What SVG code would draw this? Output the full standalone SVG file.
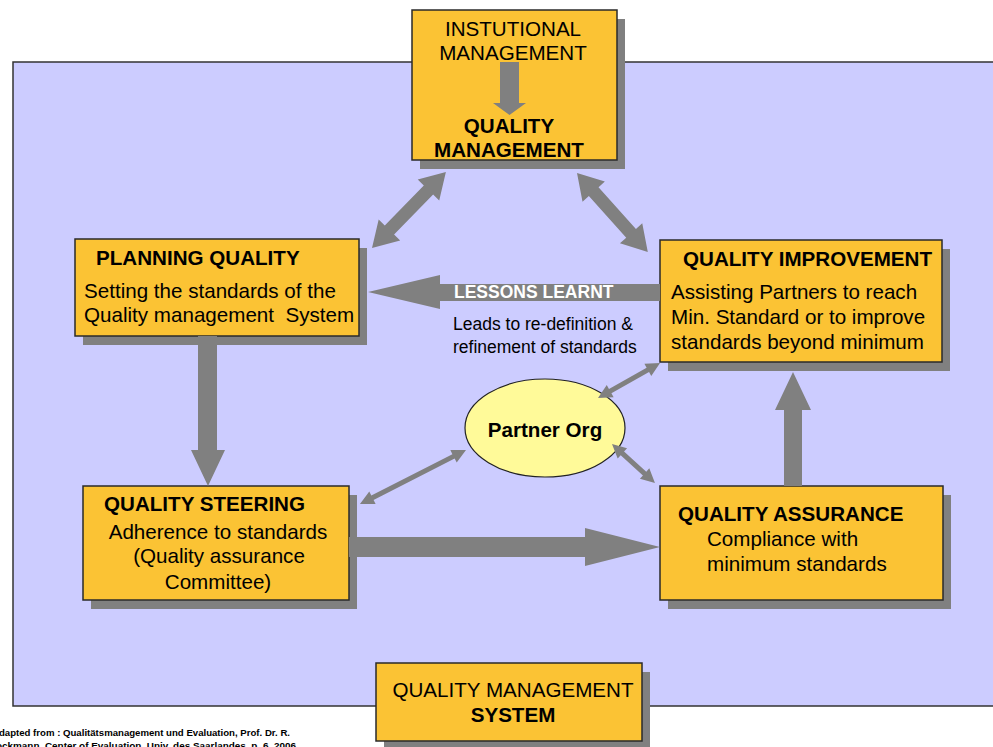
<svg xmlns="http://www.w3.org/2000/svg" width="993" height="747" viewBox="0 0 993 747">
  <style>
    .box { fill: #FBC334; stroke: #2a2a2a; stroke-width: 1.5; }
    .shadow { fill: #808080; }
    .conn { fill: #808080; }
    .t { font-family: "Liberation Sans", Arial, sans-serif; font-size: 20.6px; fill: #000; white-space: pre; }
    .b { font-weight: bold; }
    .mid { text-anchor: middle; }
  </style>

  <!-- system frame -->
  <rect x="13" y="62" width="990" height="644" fill="#CCCCFF" stroke="#333" stroke-width="1.5"/>

  <!-- nodes -->
  <g id="institutional-quality-management">
    <rect class="shadow" x="420" y="19" width="205" height="150"/>
    <rect class="box" x="412" y="10" width="205" height="150"/>
    <text class="t mid" x="513" y="36">INSTUTIONAL</text>
    <text class="t mid" x="513" y="60">MANAGEMENT</text>
    <polygon class="conn" points="500,62 519,62 519,103 526,103 509.5,115 493,103 500,103"/>
    <text class="t b mid" x="509" y="133">QUALITY</text>
    <text class="t b mid" x="509" y="157">MANAGEMENT</text>
  </g>

  <g id="planning-quality">
    <rect class="shadow" x="83" y="248" width="284" height="97"/>
    <rect class="box" x="75" y="239" width="284" height="97"/>
    <text class="t b" x="96" y="265">PLANNING QUALITY</text>
    <text class="t" x="84" y="298">Setting the standards of the</text>
    <text class="t" x="84" y="322" xml:space="preserve">Quality management  System</text>
  </g>

  <g id="quality-improvement">
    <rect class="shadow" x="668" y="249" width="282" height="122"/>
    <rect class="box" x="660" y="240" width="282" height="122"/>
    <text class="t b" x="683" y="266">QUALITY IMPROVEMENT</text>
    <text class="t" x="671" y="299">Assisting Partners to reach</text>
    <text class="t" x="671" y="324">Min. Standard or to improve</text>
    <text class="t" x="671" y="349">standards beyond minimum</text>
  </g>

  <g id="quality-steering">
    <rect class="shadow" x="91" y="495" width="266" height="114"/>
    <rect class="box" x="83" y="486" width="266" height="114"/>
    <text class="t b" x="104" y="511">QUALITY STEERING</text>
    <text class="t mid" x="218" y="539">Adherence to standards</text>
    <text class="t mid" x="219" y="563">(Quality assurance</text>
    <text class="t mid" x="218" y="589">Committee)</text>
  </g>

  <g id="quality-assurance">
    <rect class="shadow" x="668" y="495" width="283" height="114"/>
    <rect class="box" x="660" y="486" width="283" height="114"/>
    <text class="t b" x="678" y="521">QUALITY ASSURANCE</text>
    <text class="t" x="707" y="546">Compliance with</text>
    <text class="t" x="707" y="571">minimum standards</text>
  </g>

  <g id="partner-org">
    <ellipse cx="545" cy="428" rx="80" ry="49" fill="#FFFA99" stroke="#222" stroke-width="1.2"/>
    <text class="t b mid" x="545" y="437">Partner Org</text>
  </g>

  <g id="quality-management-system">
    <rect class="shadow" x="384" y="672" width="266" height="78"/>
    <rect class="box" x="376" y="663" width="266" height="78"/>
    <text class="t mid" x="513" y="697">QUALITY MANAGEMENT</text>
    <text class="t b mid" x="513" y="722">SYSTEM</text>
  </g>

  <!-- connectors -->
  <g id="connectors">
    <!-- quality management <-> planning / improvement -->
    <polygon class="conn" transform="translate(372,248) rotate(-45.8)"
      points="0,0 25,-15 25,-6.5 81,-6.5 81,-15 106,0 81,15 81,6.5 25,6.5 25,15"/>
    <polygon class="conn" transform="translate(577,173) rotate(48.1)"
      points="0,0 25,-15 25,-6.5 81,-6.5 81,-15 106,0 81,15 81,6.5 25,6.5 25,15"/>
    <!-- planning -> steering -->
    <polygon class="conn" points="198,336 217,336 217,450 225,450 208,486 191,450 198,450"/>
    <!-- steering -> assurance -->
    <polygon class="conn" points="349,537 585,537 585,528 660,547 585,566 585,557 349,557"/>
    <!-- assurance -> improvement -->
    <polygon class="conn" points="784,486 784,410 775,410 793,372 811,410 802,410 802,486"/>
    <!-- lessons learnt: improvement -> planning -->
    <polygon class="conn" points="660,284 440,284 440,275 368,292 440,309 440,301 660,301"/>
    <text class="t b" x="454" y="298" style="font-size:17.5px;fill:#fff">LESSONS LEARNT</text>
    <text class="t" x="453" y="330" style="font-size:17.5px">Leads to re-definition &amp;</text>
    <text class="t" x="453" y="353" style="font-size:17.5px">refinement of standards</text>
    <!-- partner org links -->
    <polygon class="conn" transform="translate(598,398) rotate(-29.4)"
      points="0,0 14,-7 14,-2.5 57.2,-2.5 57.2,-7 71.2,0 57.2,7 57.2,2.5 14,2.5 14,7"/>
    <polygon class="conn" transform="translate(612,444) rotate(42.2)"
      points="0,0 14,-7 14,-2.5 44,-2.5 44,-7 58,0 44,7 44,2.5 14,2.5 14,7"/>
    <polygon class="conn" transform="translate(466,450) rotate(153)"
      points="0,0 14,-7 14,-2.5 105,-2.5 105,-7 119,0 105,7 105,2.5 14,2.5 14,7"/>
  </g>

  <!-- source note -->
  <text class="t b" x="-8" y="736" style="font-size:9.5px" textLength="298" lengthAdjust="spacingAndGlyphs">Adapted from : Qualitätsmanagement und Evaluation, Prof. Dr. R.</text>
  <text class="t b" x="-14" y="749" style="font-size:9.5px" textLength="310" lengthAdjust="spacingAndGlyphs">Stockmann, Center of Evaluation, Univ. des Saarlandes, p. 6, 2006</text>
</svg>
